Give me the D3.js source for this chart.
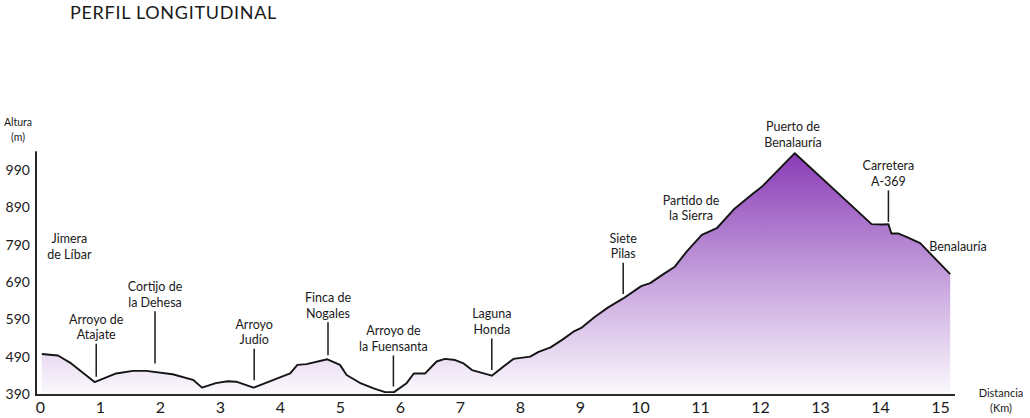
<!DOCTYPE html>
<html>
<head>
<meta charset="utf-8">
<script src="https://cdn.jsdelivr.net/npm/d3@7"></script>
<style>
  html, body { margin: 0; padding: 0; background: #fff; }
  svg { display: block; }
  text { font-family: Lato, "Open Sans", sans-serif; fill: #1a1a1a; }
</style>
</head>
<body>
<svg id="chart" width="1030" height="418"></svg>
<script>
// ---- data ----
const distKm = [0.03, 0.3, 0.52, 0.91, 1.27, 1.55, 1.77, 2.21, 2.55, 2.70, 2.93, 3.13, 3.27, 3.56,
  4.17, 4.29, 4.44, 4.79, 5.00, 5.11, 5.33, 5.56, 5.75, 5.90, 6.11, 6.23, 6.42, 6.61, 6.75, 6.92,
  7.06, 7.20, 7.53, 7.72, 7.89, 8.17, 8.31, 8.51, 8.72, 8.89, 9.03, 9.25, 9.47, 9.72, 10.02, 10.17,
  10.39, 10.58, 10.78, 11.03, 11.28, 11.58, 11.89, 12.03, 12.58, 13.86, 14.06, 14.14, 14.19, 14.30,
  14.44, 14.67, 15.17];
const altM = [497, 493, 472, 422, 445, 452, 452, 443, 428, 407, 419, 424, 423, 407,
  445, 468, 470, 483, 468, 441, 420, 405, 395, 395, 419, 445, 445, 477, 484, 481,
  472, 454, 439, 463, 484, 490, 503, 515, 537, 557, 568, 597, 622, 646, 679, 687,
  711, 731, 772, 816, 834, 887, 928, 945, 1035, 845, 844, 845, 820, 820,
  811, 794, 711];

const xTicks = [0, 1, 2, 3, 4, 5, 6, 7, 8, 9, 10, 11, 12, 13, 14, 15];
const yTicks = [390, 490, 590, 690, 790, 890, 990];

const placeNames = [["Jimera", "de Líbar"], ["Arroyo de", "Atajate"], ["Cortijo de", "la Dehesa"],
  ["Arroyo", "Judío"], ["Finca de", "Nogales"], ["Arroyo de", "la Fuensanta"], ["Laguna", "Honda"],
  ["Siete", "Pilas"], ["Partido de", "la Sierra"], ["Puerto de", "Benalauría"], ["Carretera", "A-369"],
  ["Benalauría"]];
const placeKm = [0.49, 0.937, 1.917, 3.57, 4.8, 5.89, 7.53, 9.72, 10.85, 12.55, 14.14, 15.3];
const placeLabelAlt = [805, 590, 677, 577, 648, 559, 604, 807, 908, 1106, 1001, 786];
const placeMarkerAlt = [null, 436, 472, 427, 494, 410, 454, 658, null, null, 851, null];

const title = "PERFIL LONGITUDINAL";
const yTitle = ["Altura", "(m)"];
const xTitle = ["Distancia", "(Km)"];

// ---- drawing ----
const svg = d3.select("#chart");
const x = d3.scaleLinear().domain([0, 15]).range([40, 940]);
const y = d3.scaleLinear().domain([390, 990]).range([394, 170]);

const pts = distKm.map((d, i) => [d, altM[i]]);

const defs = svg.append("defs");
const grad = defs.append("linearGradient")
  .attr("id", "fillGrad").attr("gradientUnits", "userSpaceOnUse")
  .attr("x1", 0).attr("x2", 0)
  .attr("y1", y(d3.max(altM))).attr("y2", y(390));
grad.append("stop").attr("offset", "0").attr("stop-color", "#8a3cb6");
grad.append("stop").attr("offset", "0.5").attr("stop-color", "#c39ddb");
grad.append("stop").attr("offset", "1").attr("stop-color", "#fbf9fd");

const area = d3.area().x(d => x(d[0])).y0(y(390)).y1(d => y(d[1]));
const line = d3.line().x(d => x(d[0])).y(d => y(d[1]));

svg.append("path").datum(pts).attr("d", area).attr("fill", "url(#fillGrad)");
svg.append("path").datum(pts).attr("d", line)
  .attr("fill", "none").attr("stroke", "#141414").attr("stroke-width", 1.9)
  .attr("stroke-linejoin", "round");

// axes
const xAxis = svg.append("g").attr("transform", `translate(0,${y(390) + 1})`)
  .call(d3.axisBottom(x).tickValues(xTicks).tickSize(0).tickPadding(7).tickFormat(d3.format("d")));
xAxis.select(".domain").attr("d", `M${x(-0.067)},0H${x(15.25)}`)
  .attr("stroke", "#2a2a2a").attr("stroke-width", 2);
xAxis.selectAll("text").attr("font-size", 16).attr("fill", "#1a1a1a")
  .style("font-family", 'Lato, sans-serif');

const yAxis = svg.append("g").attr("transform", `translate(${x(-0.067)},0)`)
  .call(d3.axisLeft(y).tickValues(yTicks).tickSize(0).tickPadding(6).tickFormat(d3.format("d")));
yAxis.select(".domain").attr("d", `M0,${y(1040)}V${y(390) + 2}`)
  .attr("stroke", "#2a2a2a").attr("stroke-width", 2);
yAxis.selectAll("text").attr("font-size", 14).attr("fill", "#1a1a1a")
  .style("font-family", 'Lato, sans-serif');

// title
svg.append("text").attr("x", 70).attr("y", 18.5).attr("font-size", 18)
  .attr("letter-spacing", 0.7).text(title);

// axis titles
yTitle.forEach((t, i) => svg.append("text").attr("x", 18).attr("y", 122 + i * 15)
  .attr("dy", "0.35em").attr("text-anchor", "middle").attr("font-size", 10.5).text(t));
xTitle.forEach((t, i) => svg.append("text").attr("x", 1001).attr("y", 393 + i * 15)
  .attr("dy", "0.35em").attr("text-anchor", "middle").attr("font-size", 11).text(t));

// place labels and markers
placeNames.forEach((lines, i) => {
  const cx = x(placeKm[i]);
  const cy = y(placeLabelAlt[i]);
  lines.forEach((t, j) => svg.append("text").attr("x", cx).attr("y", cy + j * 15.5)
    .attr("dy", "0.35em").attr("text-anchor", "middle").attr("font-size", 12.5).text(t));
  if (placeMarkerAlt[i] !== null) {
    const top = cy + (lines.length - 1) * 15.5 + 9;
    svg.append("line").attr("x1", cx).attr("x2", cx)
      .attr("y1", top).attr("y2", y(placeMarkerAlt[i]))
      .attr("stroke", "#1a1a1a").attr("stroke-width", 1.5);
  }
});
</script>
</body>
</html>
